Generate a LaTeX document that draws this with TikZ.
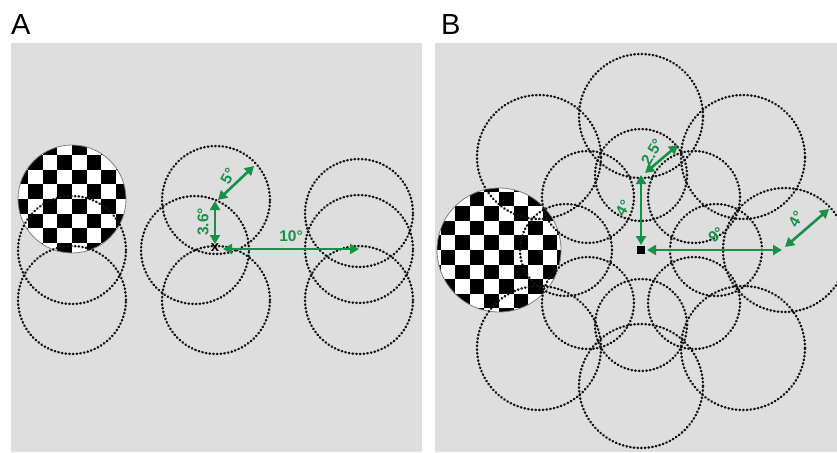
\documentclass[tikz,border=0pt]{standalone}
\usepackage{fontspec}
\setmainfont{Liberation Sans}
\usetikzlibrary{arrows.meta}
\definecolor{panelgray}{RGB}{222,222,222}
\definecolor{arrowgreen}{RGB}{24,145,72}
\definecolor{dotcol}{RGB}{20,20,20}
\tikzset{
  field/.style={draw=dotcol, line width=2.5pt, line cap=round, dash pattern=on 0.5pt off 3.2pt},
  jump/.style={draw=arrowgreen, line width=2.6pt, {Triangle[width=10pt,length=9pt]}-{Triangle[width=10pt,length=9pt]}},
  jumplabel/.style={text=arrowgreen, font=\fontsize{15.5}{15.5}\selectfont\bfseries, inner sep=0pt},
  panellabel/.style={font=\fontsize{29}{30}\selectfont, inner sep=0pt, anchor=base west},
  panelbg/.style={fill=panelgray, draw=none}
}
% black-and-white checkerboard clipped to a disk: centre x, centre y, radius
\newcommand\checkdisk[3]{%
  \begin{scope}
    \clip (#1,#2) circle[radius=#3pt];
    \fill[white] (#1,#2) circle[radius=#3pt];
    \foreach \i in {-5,...,4}{
      \foreach \j in {-5,...,4}{
        \pgfmathtruncatemacro\pk{mod(\i+\j+20,2)}
        \ifnum\pk=0
          \fill[black] ({#1+\i*14.6},{#2+\j*14.6}) rectangle ++(14.6,14.6);
        \fi
      }
    }
  \end{scope}
  \draw[gray, line width=0.8pt] (#1,#2) circle[radius=#3pt];
}
\begin{document}
\begin{tikzpicture}[x=1pt,y=-1pt]
\useasboundingbox (0,0) rectangle (837,452);
\fill[white] (0,0) rectangle (837,452);

% panel backgrounds
\fill[panelbg] (11,43) rectangle (422,452);
\fill[panelbg] (435,43) rectangle (837,452);
\node[panellabel] (labA) at (11,35) {A};
\node[panellabel] (labB) at (441,35) {B};

% ---------- panel A ----------
\begin{scope}
  \clip (11,43) rectangle (422,452);
  \checkdisk{72}{199}{54}
  \foreach \cx/\cy in {72/250, 72/300, 216/200, 195/250, 216/300, 359/213, 359/249, 359/300}
    \draw[field] (\cx,\cy) circle[radius=54pt];
\end{scope}

\node[font=\fontsize{15}{15}\selectfont\bfseries, inner sep=0pt] (fixA) at (215,248) {x};
\coordinate (a1) at (215,244);
\coordinate (a2) at (215,201);
\coordinate (a3) at (218,200);
\coordinate (a4) at (254,166);
\coordinate (a5) at (223,249);
\coordinate (a6) at (359,249);
\draw[jump] (a1) -- (a2);
\draw[jump] (a3) -- (a4);
\draw[jump] (a5) -- (a6);
\node[jumplabel, rotate=90] (tA1) at (203,222) {3.6°};
\node[jumplabel, rotate=60] (tA2) at (228,176) {5°};
\node[jumplabel] (tA3) at (291,236) {10°};

% ---------- panel B ----------
\begin{scope}
  \clip (435,43) rectangle (837,452);
  \checkdisk{499}{250}{62}
  % outer ring
  \foreach \cx/\cy in {641/116, 539/157, 743/157, 785/250, 539/348, 743/348, 641/386}
    \draw[field] (\cx,\cy) circle[radius=62pt];
  % inner ring
  \foreach \a in {0,45,...,315}
    \draw[field] ({641+75*cos(\a)},{250-75*sin(\a)}) circle[radius=46pt];
\end{scope}

\fill[black] (637,246) rectangle (645,254);
\coordinate (fixB) at (641,250);
\coordinate (b1) at (641,245);
\coordinate (b2) at (641,175);
\coordinate (b3) at (645,173);
\coordinate (b4) at (678,145);
\coordinate (b5) at (647,250);
\coordinate (b6) at (782,250);
\coordinate (b7) at (785,247);
\coordinate (b8) at (829,209);
\draw[jump] (b1) -- (b2);
\draw[jump] (b3) -- (b4);
\draw[jump] (b5) -- (b6);
\draw[jump] (b7) -- (b8);
\node[jumplabel, rotate=60] (tB1) at (623,208) {4°};
\node[jumplabel, rotate=60] (tB2) at (652,152) {2.5°};
\node[jumplabel, rotate=40] (tB3) at (716,235) {9°};
\node[jumplabel, rotate=60] (tB4) at (796,219) {4°};
\end{tikzpicture}
\end{document}
